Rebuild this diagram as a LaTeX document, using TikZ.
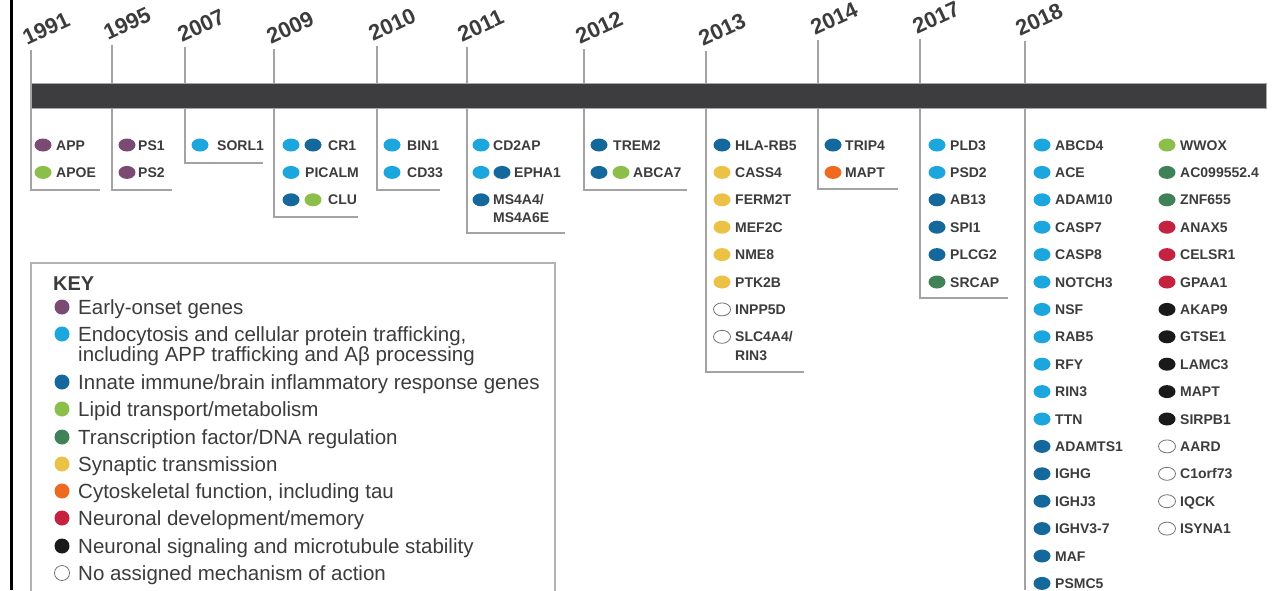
\documentclass[tikz,border=0pt]{standalone}
\usepackage{fontspec}
\setmainfont{Liberation Sans}
\usetikzlibrary{shapes.geometric}
\definecolor{cpurple}{HTML}{7A4A72}
\definecolor{clblue}{HTML}{1BA6DE}
\definecolor{cdblue}{HTML}{15689C}
\definecolor{clgreen}{HTML}{8BBF4A}
\definecolor{cdgreen}{HTML}{3F8257}
\definecolor{cyellow}{HTML}{EBC146}
\definecolor{corange}{HTML}{EE6A23}
\definecolor{cred}{HTML}{C52141}
\definecolor{cblack}{HTML}{1A1A1A}
\definecolor{ctext}{HTML}{3C3C3C}
\definecolor{cbar}{HTML}{3D3D3F}
\definecolor{cline}{HTML}{A3A3A3}
\tikzset{
 dot/.style={ellipse, minimum width=17pt, minimum height=13pt, inner sep=0pt},
 sPur/.style={fill=cpurple}, sLb/.style={fill=clblue}, sDb/.style={fill=cdblue},
 sLg/.style={fill=clgreen}, sDg/.style={fill=cdgreen}, sYe/.style={fill=cyellow},
 sOr/.style={fill=corange}, sRe/.style={fill=cred}, sBk/.style={fill=cblack},
 sNo/.style={fill=white, draw=black!55, line width=0.8pt},
 gene/.style={anchor=base west, inner sep=0pt, text=ctext, font=\fontsize{14}{16}\selectfont\bfseries},
 year/.style={anchor=base west, inner sep=0pt, rotate=25, text=ctext, font=\fontsize{22}{24}\selectfont\bfseries},
 tickline/.style={draw=cline, line width=1.5pt},
 keytext/.style={anchor=base west, inner sep=0pt, text=ctext, font=\fontsize{20.5}{22}\selectfont},
 keydot/.style={circle, minimum size=15pt, inner sep=0pt},
}
\newcommand\genecol[4]{%
 \foreach \c/\l [count=\i] in {#4} {
   \pgfmathsetmacro\yy{145+(\i-1)*27.4}
   \node[dot, \c] (#1d\i) at (#2,\yy) {};
   \node[gene] (#1t\i) at (#3,\yy+5) {\l};
 }}
\begin{document}
\begin{tikzpicture}[x=1pt,y=-1pt]
\useasboundingbox (0,0) rectangle (1284,590);
\fill[white] (0,0) rectangle (1284,590);
% left border
\draw[black, line width=3pt] (11,0) -- (11,590);
% ticks and brackets
\foreach \n/\x/\lx/\ly/\by/\bx in {
  1991/31/27/46/190/100,
  1995/112/108/41/190/172,
  2007/185/182/43/163/263,
  2009/274/271/45/217/358,
  2010/377/373/42/190/440,
  2011/467/462/43/233/565,
  2012/584/580/45/190/687,
  2013/706/703/47/372/804,
  2014/818/815/36/189/898,
  2017/920/917/35/298/1008} {
  \coordinate (t\n) at (\x,\ly+4);
  \coordinate (b\n) at (\x,\by);
  \coordinate (e\n) at (\bx,\by);
  \draw[tickline] (t\n) -- (b\n) -- (e\n);
  \node[year] (y\n) at (\lx,\ly) {\n};
}
\coordinate (t2018) at (1025,41);
\coordinate (b2018) at (1025,590);
\draw[tickline] (t2018) -- (b2018);
\node[year] (y2018) at (1020,37) {2018};
% bar
\node[fill=cbar, draw=black!35, line width=0.6pt, minimum width=1235pt, minimum height=25pt, inner sep=0pt, anchor=north west] (bar) at (31,83) {};
% gene columns
\genecol{a}{43}{56}{sPur/APP, sLg/APOE}
\genecol{b}{127}{138}{sPur/PS1, sPur/PS2}
\genecol{c}{200}{217}{sLb/SORL1}
% 2009
\node[dot, sLb] (d1a) at (291,145) {};
\node[dot, sDb] (d1b) at (313,145) {};
\node[gene] (g1) at (328,150) {CR1};
\node[dot, sLb] (d2a) at (291,172.4) {};
\node[gene] (g2) at (305,177.4) {PICALM};
\node[dot, sDb] (d3a) at (291,199.8) {};
\node[dot, sLg] (d3b) at (313,199.8) {};
\node[gene] (g3) at (328,204.8) {CLU};
\genecol{e}{392}{407}{sLb/BIN1, sLb/CD33}
% 2011
\node[dot, sLb] (f1a) at (481,145) {};
\node[gene] (f1) at (493,150) {CD2AP};
\node[dot, sLb] (f2a) at (481,172.4) {};
\node[dot, sDb] (f2b) at (502,172.4) {};
\node[gene] (f2) at (514,177.4) {EPHA1};
\node[dot, sDb] (f3a) at (481,199.8) {};
\node[gene] (f3) at (493,204.8) {MS4A4/};
\node[gene] (f4) at (493,222) {MS4A6E};
% 2012
\node[dot, sDb] (h1a) at (599,145) {};
\node[gene] (h1) at (613,150) {TREM2};
\node[dot, sDb] (h2a) at (599,172.4) {};
\node[dot, sLg] (h2b) at (621,172.4) {};
\node[gene] (h2) at (633,177.4) {ABCA7};
% 2013
\genecol{k}{722}{735}{sDb/HLA-RB5, sYe/CASS4, sYe/FERM2T, sYe/MEF2C, sYe/NME8, sYe/PTK2B, sNo/INPP5D, sNo/{SLC4A4/}}
\node[gene] (k9) at (735,360) {RIN3};
\genecol{m}{833}{845}{sDb/TRIP4, sOr/MAPT}
\genecol{n}{937}{950}{sLb/PLD3, sLb/PSD2, sDb/AB13, sDb/SPI1, sDb/PLCG2, sDg/SRCAP}
\genecol{p}{1042}{1055}{sLb/ABCD4, sLb/ACE, sLb/ADAM10, sLb/CASP7, sLb/CASP8, sLb/NOTCH3, sLb/NSF, sLb/RAB5, sLb/RFY, sLb/RIN3, sLb/TTN, sDb/ADAMTS1, sDb/IGHG, sDb/IGHJ3, sDb/IGHV3-7, sDb/MAF, sDb/PSMC5}
\genecol{q}{1167}{1180}{sLg/WWOX, sDg/AC099552.4, sDg/ZNF655, sRe/ANAX5, sRe/CELSR1, sRe/GPAA1, sBk/AKAP9, sBk/GTSE1, sBk/LAMC3, sBk/MAPT, sBk/SIRPB1, sNo/AARD, sNo/C1orf73, sNo/IQCK, sNo/ISYNA1}
% key
\draw[draw=black!30, line width=1.5pt] (31,600) -- (31,263) -- (555,263) -- (555,600);
\node[anchor=base west, inner sep=0pt, text=ctext, font=\fontsize{20}{22}\selectfont\bfseries] (keyt) at (53,290) {KEY};
\foreach \s/\t/\y [count=\i] in {
  sPur/{Early-onset genes}/307,
  sLb/{Endocytosis and cellular protein trafficking,}/334,
  sDb/{Innate immune/brain inflammatory response genes}/382,
  sLg/{Lipid transport/metabolism}/409,
  sDg/{Transcription factor/DNA regulation}/437,
  sYe/{Synaptic transmission}/464,
  sOr/{Cytoskeletal function, including tau}/491,
  sRe/{Neuronal development/memory}/518,
  sBk/{Neuronal signaling and microtubule stability}/546,
  sNo/{No assigned mechanism of action}/573} {
  \node[keydot, \s] (kd\i) at (62,\y) {};
  \node[keytext] (kt\i) at (78,\y+7) {\t};
}
\node[keytext] (kt2b) at (78,361) {including APP trafficking and Aβ processing};
\end{tikzpicture}
\end{document}
